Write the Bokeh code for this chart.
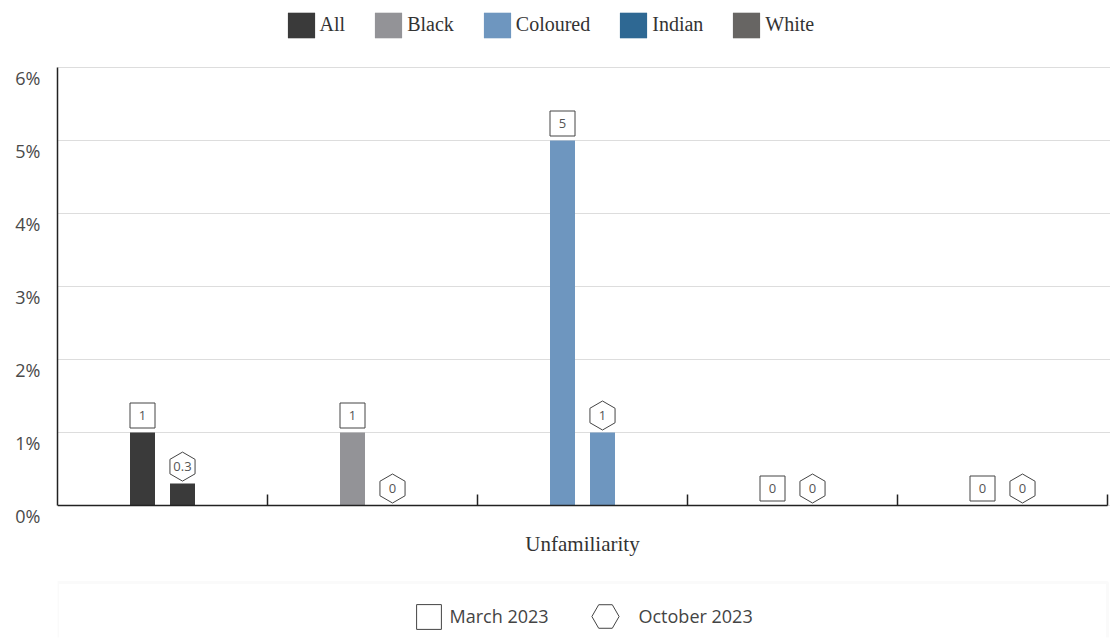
import math
from bokeh.plotting import figure
from bokeh.models import (ColumnDataSource, Legend, LegendItem, FixedTicker,
                          PrintfTickFormatter, Range1d, BoxAnnotation, LinearAxis, Label)
from bokeh.embed import file_html
from bokeh.resources import INLINE
from bokeh.core.properties import value

# ---- data ----
categories = ["All", "Black", "Coloured", "Indian", "White"]
march_2023 = [1, 1, 5, 0, 0]
october_2023 = [0.3, 0, 1, 0, 0]
colors = ["#3a3a3a", "#939397", "#6e96bf", "#2e6893", "#676563"]
periods = ["March 2023", "October 2023"]
y_ticks = [0, 1, 2, 3, 4, 5, 6]
x_title = "Unfamiliarity"

# ---- layout (pixels) ----
CW, CH = 1110, 640           # canvas
LEFT = 57                    # frame left
BOTTOM_BORDER = 3
FRAME_BOTTOM = CH - BOTTOM_BORDER
AXIS_Y = 505                 # canvas y of the 0 line
PX_UNIT = 73.0               # pixels per 1 %
GROUP_PX = 210.0             # pixels per category group
N = len(categories)
Y_MAX = 6

x_end = (CW - LEFT) / GROUP_PX
y_end = AXIS_Y / PX_UNIT
y_start = -(FRAME_BOTTOM - AXIS_Y) / PX_UNIT

BAR_OFF = 20 / GROUP_PX
BAR_W = 25 / GROUP_PX
LABEL_OFF = 17 / PX_UNIT
TICKLABEL_SHIFT = 10 / PX_UNIT

p = figure(width=CW, height=CH, x_range=Range1d(0, x_end), y_range=Range1d(y_start, y_end),
           output_backend="svg", toolbar_location=None,
           min_border_left=LEFT, min_border_right=0, min_border_top=0,
           min_border_bottom=BOTTOM_BORDER)
p.outline_line_color = None

# bars
bar_renderers = []
for i, (cat, m, o, c) in enumerate(zip(categories, march_2023, october_2023, colors)):
    src = ColumnDataSource(dict(x=[i + 0.5 - BAR_OFF, i + 0.5 + BAR_OFF], top=[m, o]))
    r = p.vbar(x="x", top="top", width=BAR_W, bottom=0, source=src,
               fill_color=c, line_color=None)
    bar_renderers.append(r)

def fmt(v):
    return f"{v:g}"

# value labels
src_m = ColumnDataSource(dict(
    x=[i + 0.5 - BAR_OFF for i in range(N)],
    y=[v + LABEL_OFF for v in march_2023],
    t=[fmt(v) for v in march_2023]))
src_o = ColumnDataSource(dict(
    x=[i + 0.5 + BAR_OFF for i in range(N)],
    y=[v + LABEL_OFF for v in october_2023],
    t=[fmt(v) for v in october_2023]))

sq = p.rect("x", "y", width=25, height=25, width_units="screen", height_units="screen",
            source=src_m, fill_color="white", line_color="#444444", line_width=1)
hx = p.scatter("x", "y", source=src_o, marker="hex", size=29, angle=math.pi / 6,
               fill_color="white", line_color="#444444", line_width=1)
for s in (src_m, src_o):
    p.text("x", "y", text="t", source=s, text_align="center", text_baseline="middle",
           text_font=value("Open Sans"), text_font_size="13px", text_color="#555555")

# y axis: line only (default axis), labels on a shifted range
p.yaxis.ticker = FixedTicker(ticks=[])
p.yaxis.bounds = (0, Y_MAX)
p.yaxis.major_tick_line_color = None
p.yaxis.minor_tick_line_color = None
p.yaxis.axis_line_color = "#222222"
p.yaxis.axis_line_width = 1.5
p.yaxis.major_label_standoff = 0

p.extra_y_ranges = {"ticklabels": Range1d(y_start + TICKLABEL_SHIFT, y_end + TICKLABEL_SHIFT)}
ylab = LinearAxis(y_range_name="ticklabels", ticker=FixedTicker(ticks=y_ticks),
                  formatter=PrintfTickFormatter(format="%d%%"))
ylab.axis_line_color = None
ylab.major_tick_line_color = None
ylab.minor_tick_line_color = None
ylab.major_label_text_font = "Open Sans"
ylab.major_label_text_font_size = "18px"
ylab.major_label_text_color = "#4a4a4a"
ylab.major_label_standoff = 11
p.add_layout(ylab, "left")

# x axis at the 0 line
p.xaxis.fixed_location = 0
p.xaxis.bounds = (0, N)
p.xaxis.ticker = FixedTicker(ticks=list(range(1, N + 1)))
p.xaxis.major_label_overrides = {t: "" for t in range(1, N + 1)}
p.xaxis.major_tick_in = 11
p.xaxis.major_tick_out = 0
p.xaxis.major_tick_line_color = "#222222"
p.xaxis.major_tick_line_width = 1.5
p.xaxis.minor_tick_line_color = None
p.xaxis.axis_line_color = "#222222"
p.xaxis.axis_line_width = 1.5
p.xaxis.major_label_text_font_size = "0px"
p.xaxis.major_label_standoff = 0

p.add_layout(Label(x=N / 2, y=0, y_offset=-38, text=x_title, text_align="center",
                   text_baseline="middle", text_font="Liberation Serif",
                   text_font_size="21px", text_color="#333333"))

p.xgrid.grid_line_color = None
p.ygrid.ticker = FixedTicker(ticks=y_ticks)
p.ygrid.bounds = (0, N)
p.ygrid.grid_line_color = "#dddddd"
p.ygrid.grid_line_width = 1

# top legend (categories)
top_legend = Legend(
    items=[LegendItem(label=c, renderers=[r]) for c, r in zip(categories, bar_renderers)],
    orientation="horizontal", location=(226.6, FRAME_BOTTOM - 40.8), padding=0, margin=0,
    spacing=26, label_standoff=2, glyph_width=34, glyph_height=32,
    label_text_font="Liberation Serif", label_text_font_size="20px",
    label_text_color="#333333", border_line_color=None, background_fill_alpha=0)
p.add_layout(top_legend)

# bottom box + legends (periods)
box = BoxAnnotation(left=0, right=N, top=-77 / PX_UNIT, bottom=y_start - 1,
                    fill_color=None, fill_alpha=0, line_color="#eeeeee", line_width=3)
p.add_layout(box)

common = dict(orientation="horizontal", padding=0, margin=0,
              label_text_font="Open Sans", label_text_font_size="18px",
              label_text_color="#444444", border_line_color=None, background_fill_alpha=0)
march_legend = Legend(items=[LegendItem(label=periods[0], renderers=[sq])],
                      location=(355.5, FRAME_BOTTOM - 631.5),
                      glyph_width=31, glyph_height=31, label_standoff=6, **common)
october_legend = Legend(items=[LegendItem(label=periods[1], renderers=[hx])],
                        location=(513.5, FRAME_BOTTOM - 650),
                        glyph_width=68, glyph_height=68, label_standoff=0, **common)
p.add_layout(march_legend)
p.add_layout(october_legend)

open("out.html", "w").write(file_html(p, INLINE))
